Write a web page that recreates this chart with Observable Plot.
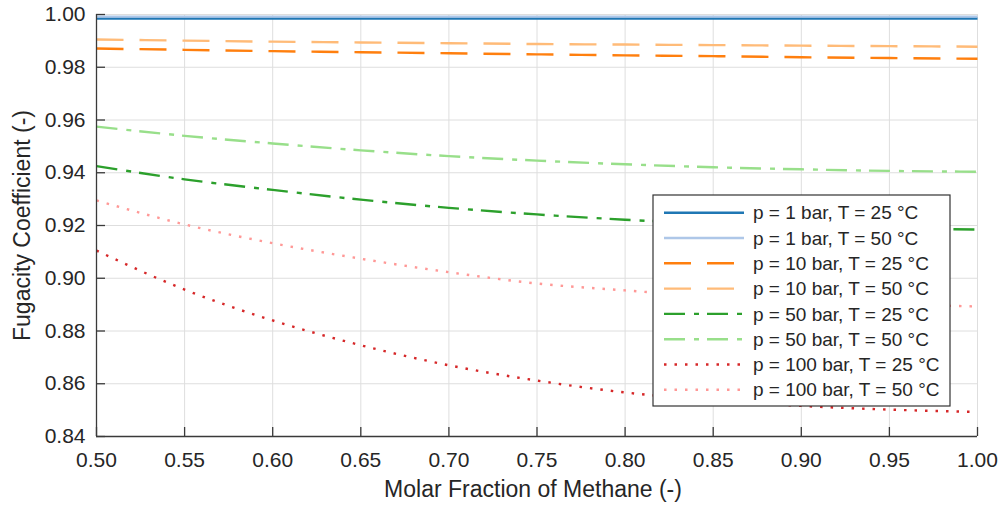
<!DOCTYPE html>
<html>
<head>
<meta charset="utf-8">
<script src="https://cdn.jsdelivr.net/npm/d3@7"></script>
<script src="https://cdn.jsdelivr.net/npm/@observablehq/plot@0.6"></script>
<style>
  html, body { margin: 0; padding: 0; background: #fff; }
  #chart svg { display: block; }
</style>
</head>
<body>
<div id="chart"></div>
<script>
// ---- data ----
const molarFraction = [0.50, 0.55, 0.60, 0.65, 0.70, 0.75, 0.80, 0.85, 0.90, 0.95, 1.00];

const p1_T25   = [0.9985, 0.9985, 0.9985, 0.9985, 0.9985, 0.9985, 0.9985, 0.9985, 0.9985, 0.9985, 0.9985];
const p1_T50   = [0.9992, 0.9992, 0.9992, 0.9992, 0.9992, 0.9992, 0.9992, 0.9992, 0.9992, 0.9992, 0.9992];
const p10_T25  = [0.9871, 0.9866, 0.9861, 0.9857, 0.9853, 0.9849, 0.9845, 0.9842, 0.9838, 0.9835, 0.9832];
const p10_T50  = [0.9905, 0.9901, 0.9897, 0.9894, 0.9891, 0.9888, 0.9886, 0.9884, 0.9882, 0.9880, 0.9878];
const p50_T25  = [0.9425, 0.9375, 0.9335, 0.9298, 0.9267, 0.9242, 0.9222, 0.9207, 0.9196, 0.9189, 0.9185];
const p50_T50  = [0.9575, 0.9540, 0.9511, 0.9485, 0.9463, 0.9446, 0.9432, 0.9421, 0.9413, 0.9407, 0.9404];
const p100_T25 = [0.9105, 0.8957, 0.8840, 0.8746, 0.8670, 0.8612, 0.8567, 0.8537, 0.8516, 0.8502, 0.8493];
const p100_T50 = [0.9295, 0.9204, 0.9133, 0.9074, 0.9023, 0.8980, 0.8954, 0.8930, 0.8915, 0.8902, 0.8893];

const seriesNames = [
  "p = 1 bar, T = 25 °C", "p = 1 bar, T = 50 °C",
  "p = 10 bar, T = 25 °C", "p = 10 bar, T = 50 °C",
  "p = 50 bar, T = 25 °C", "p = 50 bar, T = 50 °C",
  "p = 100 bar, T = 25 °C", "p = 100 bar, T = 50 °C"
];
const seriesValues = [p1_T25, p1_T50, p10_T25, p10_T50, p50_T25, p50_T50, p100_T25, p100_T50];

const xTicks = [0.50, 0.55, 0.60, 0.65, 0.70, 0.75, 0.80, 0.85, 0.90, 0.95, 1.00];
const yTicks = [0.84, 0.86, 0.88, 0.90, 0.92, 0.94, 0.96, 0.98, 1.00];

const xLabel = "Molar Fraction of Methane (-)";
const yLabel = "Fugacity Coefficient (-)";

// ---- styles ----
const colors = ["#1f77b4", "#aec7e8", "#ff7f0e", "#ffbb78", "#2ca02c", "#98df8a", "#d62728", "#ff9896"];
const dashes = [null, null, "27,16", "27,16", "21,9,5,8", "21,9,5,8", "2.5,8", "2.5,8"];

const rows = [];
seriesNames.forEach((name, i) => {
  molarFraction.forEach((x, j) => rows.push({series: name, x, y: seriesValues[i][j]}));
});

const FONT = "'Liberation Sans', Arial, Helvetica, sans-serif";
const AX = "#3a3a3a";

const lineMarks = seriesNames.map((name, i) =>
  Plot.line(rows.filter(d => d.series === name), {
    x: "x", y: "y", stroke: colors[i], strokeWidth: 2.4,
    strokeDasharray: dashes[i] || undefined, strokeLinecap: "butt",
    curve: "monotone-x"
  })
);

const chart = Plot.plot({
  width: 1002,
  height: 506,
  marginLeft: 96,
  marginRight: 25,
  marginTop: 14,
  marginBottom: 70,
  style: {fontFamily: FONT, color: "#262626", background: "#fff"},
  x: {domain: [0.5, 1.0]},
  y: {domain: [0.84, 1.0]},
  marks: [
    Plot.gridX(xTicks, {stroke: "#dedede", strokeOpacity: 1, strokeWidth: 1}),
    Plot.gridY(yTicks, {stroke: "#dedede", strokeOpacity: 1, strokeWidth: 1}),
    ...lineMarks,
    Plot.ruleX([0.5], {stroke: AX, strokeWidth: 1.3}),
    Plot.ruleY([0.84], {stroke: AX, strokeWidth: 1.3}),
    Plot.axisX(xTicks, {tickSize: 9, dy: -9, text: null, stroke: AX, strokeWidth: 1.3, label: null}),
    Plot.axisY(yTicks, {tickSize: 9, dx: 9, text: null, stroke: AX, strokeWidth: 1.3, label: null}),
    Plot.axisX(xTicks, {tickSize: 0, tickPadding: 16, fontSize: 21, fill: "#262626",
      tickFormat: d3.format(".2f"), label: null}),
    Plot.axisY(yTicks, {tickSize: 0, tickPadding: 11, fontSize: 21, fill: "#262626",
      tickFormat: d3.format(".2f"), label: null}),
    Plot.text([xLabel], {frameAnchor: "bottom", textAnchor: "middle", lineAnchor: "middle",
      dy: 53, dx: -4, fontSize: 23, fill: "#262626"}),
    Plot.text([yLabel], {frameAnchor: "left", textAnchor: "middle", lineAnchor: "middle",
      dx: -74, rotate: -90, fontSize: 23, fill: "#262626"})
  ]
});

document.getElementById("chart").appendChild(chart);

// ---- legend (drawn into the same SVG) ----
const svg = d3.select(chart);
const lg = svg.append("g").attr("font-family", FONT).attr("font-size", 19)
  .attr("fill", "#262626").attr("text-anchor", "start");
const lx = 653, ly = 195, lw = 297, lh = 211;
lg.append("rect").attr("x", lx).attr("y", ly).attr("width", lw).attr("height", lh)
  .attr("fill", "#fff").attr("stroke", "#333").attr("stroke-width", 1.2);
seriesNames.forEach((name, i) => {
  const cy = ly + 17.7 + i * 25.3;
  lg.append("line").attr("x1", lx + 11).attr("x2", lx + 91).attr("y1", cy).attr("y2", cy)
    .attr("stroke", colors[i]).attr("stroke-width", 2.4)
    .attr("stroke-dasharray", dashes[i] || null);
  lg.append("text").attr("x", lx + 100).attr("y", cy).attr("dy", "0.35em")
    .attr("text-anchor", "start").text(name);
});
</script>
</body>
</html>
